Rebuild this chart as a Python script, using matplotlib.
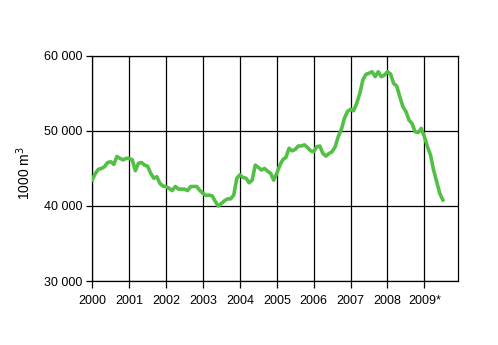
import matplotlib
matplotlib.use("Agg")
import matplotlib.pyplot as plt
import numpy as np

# Monthly values, Jan 2000 .. Jul 2009 (1000 m3)
values = [
    43500, 44350, 44900, 45000, 45250, 45800, 45900, 45550, 46600, 46350, 46150, 46350,  # 2000
    46350, 46150, 44700, 45700, 45800, 45450, 45300, 44350, 43700, 43900, 43000, 42650,  # 2001
    42600, 42350, 42050, 42600, 42250, 42250, 42250, 42050, 42600, 42600, 42600, 42050,  # 2002
    41700, 41400, 41450, 41350, 40600, 40000, 40350, 40700, 40950, 40950, 41450, 43700,  # 2003
    44150, 43800, 43700, 43100, 43450, 45450, 45150, 44800, 45000, 44650, 44350, 43450,  # 2004
    44350, 45450, 46200, 46500, 47700, 47350, 47550, 48000, 48000, 48150, 47800, 47350,  # 2005
    47250, 47900, 48000, 47000, 46650, 47000, 47250, 47900, 49250, 50200, 51700, 52600,  # 2006
    52900, 52700, 53700, 55000, 56800, 57550, 57700, 57900, 57250, 57900, 57250, 57450,  # 2007
    57900, 57600, 56350, 56000, 54600, 53250, 52600, 51450, 51000, 49900, 49800, 50350,  # 2008
    49250, 47900, 46800, 44800, 43250, 41700, 40800,                                     # 2009
]
start_year = 2000
tick_years = list(range(2000, 2010))
tick_labels = ["2000", "2001", "2002", "2003", "2004", "2005", "2006", "2007", "2008", "2009*"]
y_ticks = [30000, 40000, 50000, 60000]
y_tick_labels = ["30 000", "40 000", "50 000", "60 000"]

plt.rcParams['font.family'] = ['Liberation Sans', 'DejaVu Sans']

fig = plt.figure(figsize=(4.98, 3.45), dpi=100)
ax = fig.add_axes([92.3/498, 1-281/345, 366/498, 225/345])

x = start_year + np.arange(len(values)) / 12.0
ax.plot(x, values, color='#52C044', linewidth=2.6, solid_joinstyle='round', zorder=3)

ax.set_xlim(2000, 2009.92)
ax.set_ylim(30000, 60000)
ax.set_xticks(tick_years)
ax.set_xticklabels(tick_labels, fontsize=9)
ax.set_yticks(y_ticks)
ax.set_yticklabels(y_tick_labels, fontsize=9)

ax.grid(True, color='black', linewidth=0.9)
for s in ax.spines.values():
    s.set_color('black')
    s.set_linewidth(0.9)
ax.tick_params(axis='both', direction='out', length=4, width=0.9, colors='black', pad=3)
ax.tick_params(axis='x', length=5, pad=5)

ax.set_ylabel("1000 m$^3$", fontsize=10)
ax.yaxis.set_label_coords(-0.162, 0.48)

fig.savefig("out.png", dpi=100, facecolor='white')
